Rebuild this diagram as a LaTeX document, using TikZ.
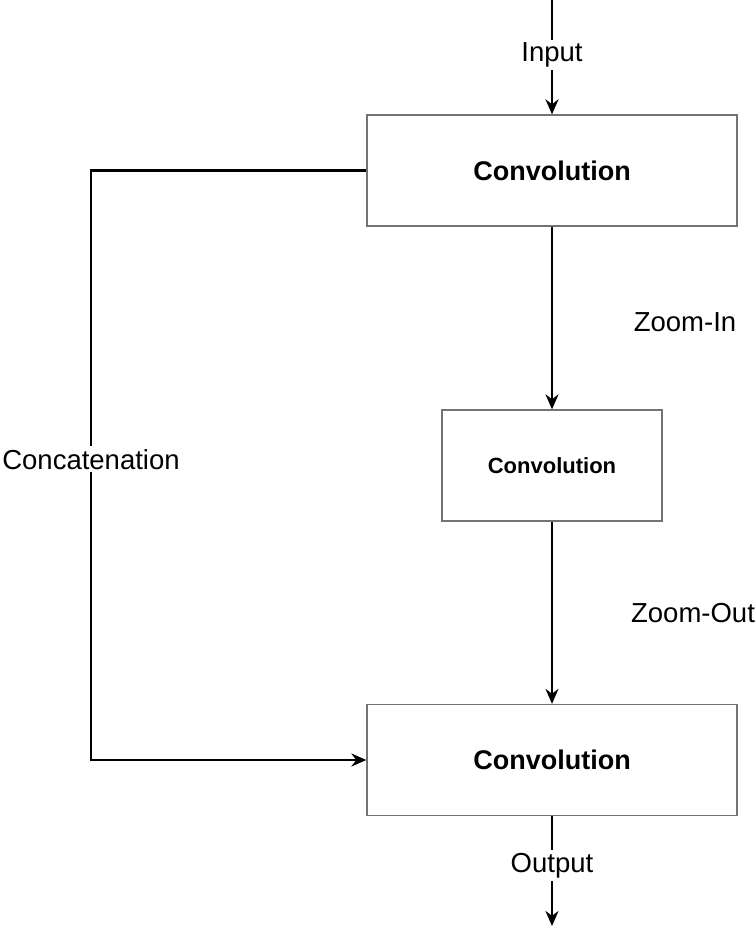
\documentclass[tikz,border=0pt]{standalone}
\usepackage{fontspec}
\setmainfont{Liberation Sans}
\usetikzlibrary{arrows.meta,positioning}

\begin{document}
\begin{tikzpicture}[x=1pt, y=-1pt, >={Stealth[length=15pt,width=13pt]},
  conv/.style={draw=black!55, line width=1.3pt, fill=white, font=\bfseries\fontsize{27}{32}\selectfont},
  lbl/.style={fill=white, inner sep=3pt, font=\fontsize{27.5}{32}\selectfont},
  link/.style={->, line width=2.3pt}]
\useasboundingbox (0,0) rectangle (754,933);
% boxes
\node[conv, minimum width=370pt, minimum height=111pt] (convA) at (552,170.5) {Convolution};
\node[conv, minimum width=220pt, minimum height=111pt, font=\bfseries\fontsize{22}{26}\selectfont] (convB) at (552,465.5) {Convolution};
\node[conv, minimum width=370pt, minimum height=111pt] (convC) at (552,760) {Convolution};
\coordinate (inTop) at (552,0);
\coordinate (outEnd) at (552,926);
\coordinate (concatTop) at (91,170.5);
% main path
\draw[link] (inTop) -- node[lbl, pos=0.48] {Input} (convA.north);
\draw[link] (convA.south) -- (convB.north);
\node[lbl, fill=none] (zoomIn) at (685,322) {Zoom-In};
\draw[link] (convB.south) -- (convC.north);
\node[lbl, fill=none] (zoomOut) at (693,613) {Zoom-Out};
\draw[link] (convC.south) -- node[lbl, pos=0.45] {Output} (outEnd);
% skip connection
\draw[link] (convA.west) -- (concatTop) -- node[lbl, pos=0.49] {Concatenation} (concatTop |- convC.west) -- (convC.west);
\end{tikzpicture}
\end{document}
